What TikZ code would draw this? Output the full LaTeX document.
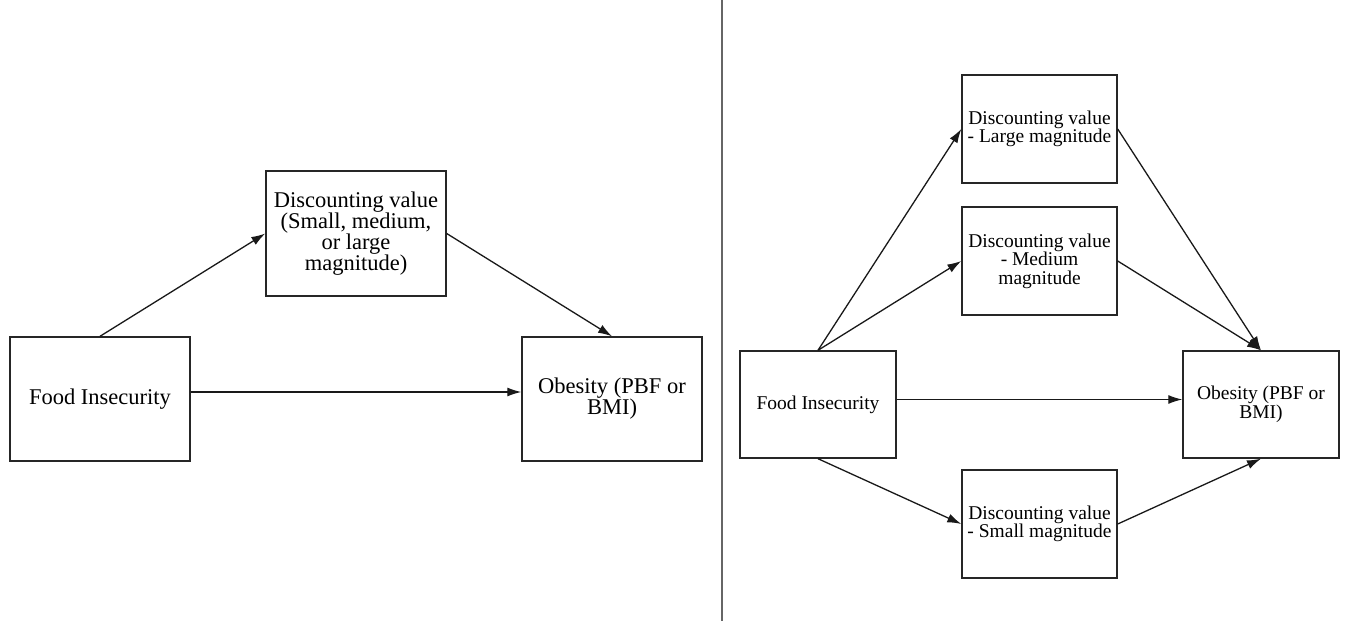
\documentclass[tikz,border=0pt]{standalone}
\usepackage{fontspec}
\setmainfont{Liberation Serif}
\usetikzlibrary{arrows.meta}
\begin{document}
\begin{tikzpicture}[x=1pt,y=-1pt,
  bigbox/.style={draw=black!85,line width=1.4pt,inner sep=0pt,align=center,font=\fontsize{22.5}{21}\selectfont},
  smallbox/.style={draw=black!85,line width=1.4pt,inner sep=0pt,align=center,font=\fontsize{19.5}{18.5}\selectfont},
  arr/.style={draw=black!90,line width=1.3pt,-{Latex[length=14pt,width=9pt]}}]
\useasboundingbox[fill=white] (0,0) rectangle (1349,621);
% divider
\draw[black!60,line width=1.4pt] (722,0) -- (722,621);
% left panel
\node[bigbox,minimum width=180pt,minimum height=124pt] (lfi) at (100,399) {Food Insecurity};
\node[bigbox,minimum width=180pt,minimum height=125pt] (ldisc) at (356,233.5) {Discounting value\\(Small, medium,\\or large\\magnitude)};
\node[bigbox,minimum width=180pt,minimum height=124pt] (lob) at (612,399) {Obesity (PBF or\\BMI)};
\draw[arr] (lfi.north) -- (ldisc.west);
\draw[arr] (ldisc.east) -- (lob.north);
\draw[arr] ([yshift=7pt]lfi.east) -- ([yshift=7pt]lob.west);
% right panel
\node[smallbox,minimum width=155pt,minimum height=108pt] (large) at (1039.5,129) {Discounting value\\- Large magnitude};
\node[smallbox,minimum width=155pt,minimum height=108pt] (medium) at (1039.5,261) {Discounting value\\- Medium\\magnitude};
\node[smallbox,minimum width=155pt,minimum height=108pt] (small) at (1039.5,524) {Discounting value\\- Small magnitude};
\node[smallbox,minimum width=156pt,minimum height=107pt] (rfi) at (818,404.5) {Food Insecurity};
\node[smallbox,minimum width=156pt,minimum height=107pt] (rob) at (1261,404.5) {Obesity (PBF or\\BMI)};
\draw[arr] (rfi.north) -- (large.west);
\draw[arr] (rfi.north) -- (medium.west);
\draw[arr] ([yshift=5pt]rfi.east) -- ([yshift=5pt]rob.west);
\draw[arr] (rfi.south) -- (small.west);
\draw[arr] (large.east) -- (rob.north);
\draw[arr] (medium.east) -- (rob.north);
\draw[arr] (small.east) -- (rob.south);
\end{tikzpicture}
\end{document}
